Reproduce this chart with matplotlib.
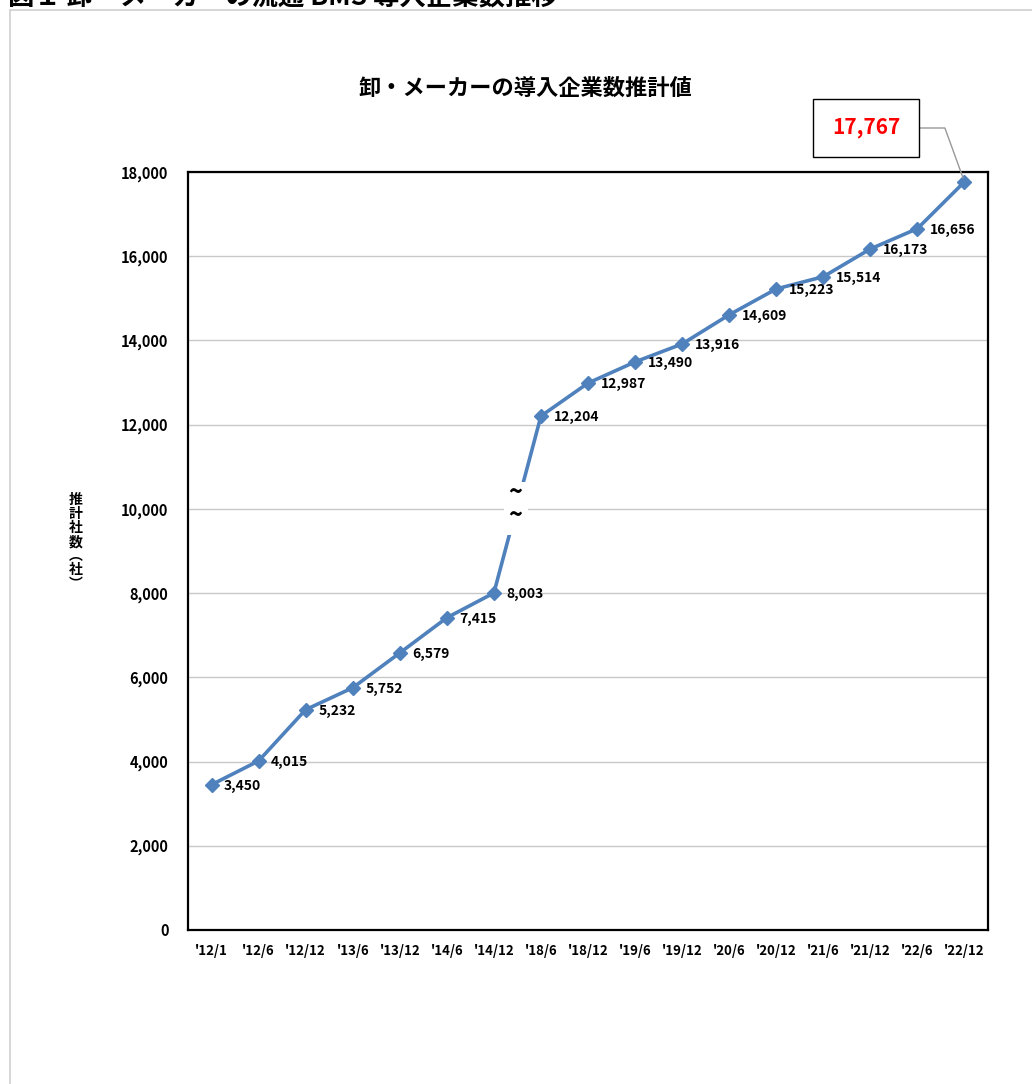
import matplotlib
matplotlib.use('Agg')
import matplotlib.pyplot as plt
from matplotlib.patches import Rectangle

plt.rcParams['font.family'] = ['Noto Sans CJK JP', 'DejaVu Sans']

periods = ["'12/1", "'12/6", "'12/12", "'13/6", "'13/12", "'14/6", "'14/12", "'18/6",
           "'18/12", "'19/6", "'19/12", "'20/6", "'20/12", "'21/6", "'21/12", "'22/6", "'22/12"]
companies = [3450, 4015, 5232, 5752, 6579, 7415, 8003, 12204,
             12987, 13490, 13916, 14609, 15223, 15514, 16173, 16656, 17767]
yticks = [0, 2000, 4000, 6000, 8000, 10000, 12000, 14000, 16000, 18000]

blue = '#4F81BD'
W, H = 1032, 1084

fig = plt.figure(figsize=(W / 100, H / 100), dpi=100)

# outer frame and the page heading, which is clipped at the top edge as in the source
fig.patches.append(Rectangle((10 / W, -0.1), 1.2, 1 - 10 / H + 0.1, transform=fig.transFigure,
                             fill=False, edgecolor='#d0d0d0', lw=1.2))
fig.text(8 / W, 1 - 5 / H, '図１ 卸・メーカーの流通 BMS 導入企業数推移', fontsize=19,
         fontweight='bold', ha='left', va='baseline')

ax = fig.add_axes([188 / W, 1 - 930 / H, 800 / W, 758 / H])
x = list(range(len(periods)))
ax.plot(x, companies, color=blue, lw=2.6, marker='D', markersize=7, zorder=3)

ax.set_xlim(-0.5, len(periods) - 0.5)
ax.set_ylim(0, 18000)
ax.set_yticks(yticks)
ax.set_yticklabels([f'{v:,}' for v in yticks], fontsize=10.5, fontweight='bold')
ax.set_xticks(x)
ax.set_xticklabels(periods, fontsize=9.5, fontweight='bold')
ax.tick_params(length=0, pad=14)
ax.tick_params(axis='x', pad=10)
ax.grid(axis='y', color='#c8c8c8', lw=1)
ax.set_axisbelow(True)
for s in ax.spines.values():
    s.set_linewidth(1.6)
    s.set_color('black')

# data labels
for xi, v in zip(x[:-1], companies[:-1]):
    ax.annotate(f'{v:,}', (xi, v), xytext=(9, -1), textcoords='offset points',
                fontsize=10, fontweight='bold', ha='left', va='center')

# break mark on the jump between '14/12 and '18/6
ax.add_patch(Rectangle((6.22, 9380), 0.5, 1250, facecolor='white', edgecolor='none', zorder=4))
ax.text(6.45, 10380, '~', fontsize=17, fontweight='bold', ha='center', va='center', zorder=5)
ax.text(6.45, 9820, '~', fontsize=17, fontweight='bold', ha='center', va='center', zorder=5)

# callout for the latest value
ax.annotate(f'{companies[-1]:,}', (x[-1], companies[-1]), xytext=(866 / W, 1 - 128 / H),
            textcoords='figure fraction', fontsize=15, fontweight='bold', color='red',
            ha='center', va='center',
            bbox=dict(boxstyle='square,pad=0.9', facecolor='white', edgecolor='black', lw=1),
            arrowprops=dict(arrowstyle='-', color='#999999', lw=1,
                            connectionstyle='angle,angleA=0,angleB=110,rad=0',
                            shrinkA=0, shrinkB=3),
            annotation_clip=False)

fig.text(525 / W, 1 - 88 / H, '卸・メーカーの導入企業数推計値', fontsize=16, fontweight='bold',
         ha='center', va='center')
fig.text(76 / W, 1 - 542 / H, '推\n計\n社\n数\n︵\n社\n︶', fontsize=10, fontweight='bold',
         ha='center', va='center', linespacing=1.0)

fig.savefig('out.png', dpi=100, facecolor='white')
